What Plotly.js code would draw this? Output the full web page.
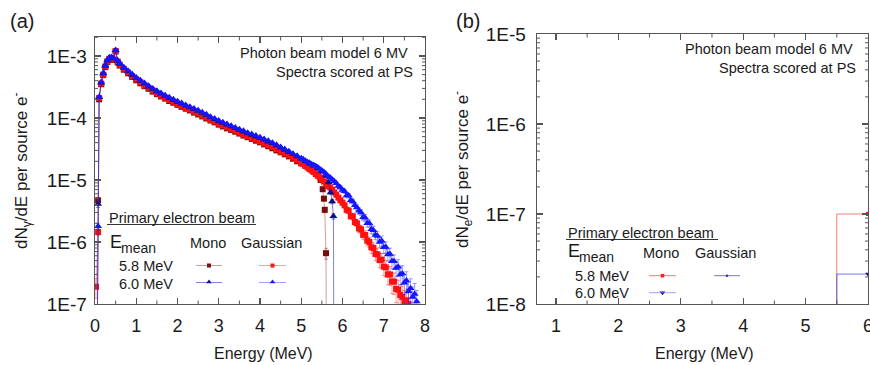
<!DOCTYPE html>
<html><head><meta charset="utf-8">
<script src="https://cdn.plot.ly/plotly-3.0.1.min.js"></script>
<style>html,body{margin:0;padding:0;background:#fff}#chart{width:870px;height:365px}</style>
</head><body><div id="chart"></div>
<script>
// ---------------- DATA ----------------
// Panel (a): photon spectra dN/dE per source electron
const energyLow = [0.025, 0.075];
const mono58Low  = [1e-10, 4.7e-6];
const mono60Low  = [1e-10, 4.1e-6];
const gauss58Low = [1.9e-7, 1.45e-6];
const gauss60Low = [1e-10, 1.8e-6];
const lowRelErr  = [0.35, 0.12];

const energyBody = [0.1,0.15,0.2,0.25,0.3,0.35,0.4,0.45,0.5,0.55,0.6,
  0.7,0.8,0.9,1.0,1.1,1.2,1.3,1.4,1.5,1.6,
  1.7,1.8,1.9,2.0,2.1,2.2,2.3,2.4,2.5,2.6,
  2.7,2.8,2.9,3.0,3.1,3.2,3.3,3.4,3.5,3.6,
  3.7,3.8,3.9,4.0,4.1,4.2,4.3,4.4,4.5,4.6,
  4.7,4.8,4.9,5.0];
const gauss60Body = [2.2e-4,3.8e-4,5.3e-4,7.1e-4,8.6e-4,9.5e-4,9.6e-4,9.2e-4,1.25e-3,8.5e-4,7.6e-4,
  6.6e-4,5.8e-4,5.1e-4,4.5e-4,4.05e-4,3.65e-4,3.3e-4,3.0e-4,2.75e-4,2.52e-4,
  2.33e-4,2.15e-4,2.0e-4,1.86e-4,1.74e-4,1.62e-4,1.52e-4,1.42e-4,1.33e-4,1.24e-4,
  1.15e-4,1.05e-4,9.8e-5,9.1e-5,8.5e-5,8.0e-5,7.5e-5,7.0e-5,6.6e-5,6.2e-5,
  5.8e-5,5.5e-5,5.2e-5,4.9e-5,4.6e-5,4.3e-5,4.0e-5,3.7e-5,3.4e-5,3.15e-5,
  2.9e-5,2.65e-5,2.45e-5,2.25e-5];
const gauss58Body = [2.1e-4,3.6e-4,5.0e-4,6.8e-4,8.2e-4,9.0e-4,9.2e-4,8.8e-4,1.2e-3,8.1e-4,7.2e-4,
  6.2e-4,5.4e-4,4.75e-4,4.2e-4,3.75e-4,3.35e-4,3.05e-4,2.75e-4,2.5e-4,2.3e-4,
  2.12e-4,1.95e-4,1.82e-4,1.69e-4,1.57e-4,1.46e-4,1.37e-4,1.27e-4,1.19e-4,1.1e-4,
  1.02e-4,9.4e-5,8.8e-5,8.1e-5,7.6e-5,7.1e-5,6.6e-5,6.2e-5,5.8e-5,5.4e-5,
  5.1e-5,4.8e-5,4.5e-5,4.2e-5,3.9e-5,3.65e-5,3.4e-5,3.15e-5,2.9e-5,2.7e-5,
  2.5e-5,2.3e-5,2.1e-5,1.9e-5];
const mono58Body = [2.0e-4,3.5e-4,4.9e-4,6.6e-4,8.0e-4,8.8e-4,9.0e-4,8.6e-4,1.18e-3,7.9e-4,7.0e-4,
  6.0e-4,5.25e-4,4.6e-4,4.05e-4,3.62e-4,3.25e-4,2.95e-4,2.66e-4,2.42e-4,2.22e-4,
  2.05e-4,1.88e-4,1.76e-4,1.63e-4,1.51e-4,1.41e-4,1.32e-4,1.22e-4,1.14e-4,1.06e-4,
  9.8e-5,9.1e-5,8.5e-5,7.8e-5,7.3e-5,6.8e-5,6.4e-5,6.0e-5,5.6e-5,5.2e-5,
  4.9e-5,4.6e-5,4.3e-5,4.05e-5,3.75e-5,3.5e-5,3.25e-5,3.0e-5,2.8e-5,2.6e-5,
  2.4e-5,2.2e-5,2.0e-5,1.85e-5];
const mono60Body = [2.15e-4,3.7e-4,5.2e-4,6.9e-4,8.4e-4,9.3e-4,9.4e-4,9.0e-4,1.22e-3,8.3e-4,7.4e-4,
  6.4e-4,5.6e-4,4.95e-4,4.4e-4,3.95e-4,3.55e-4,3.2e-4,2.92e-4,2.67e-4,2.45e-4,
  2.26e-4,2.09e-4,1.94e-4,1.8e-4,1.69e-4,1.57e-4,1.47e-4,1.38e-4,1.29e-4,1.2e-4,
  1.12e-4,1.02e-4,9.5e-5,8.8e-5,8.3e-5,7.8e-5,7.3e-5,6.8e-5,6.4e-5,6.0e-5,
  5.6e-5,5.3e-5,5.0e-5,4.75e-5,4.45e-5,4.15e-5,3.9e-5,3.6e-5,3.3e-5,3.05e-5,
  2.8e-5,2.6e-5,2.4e-5,2.2e-5];

const energyTailG = [5.05,5.1,5.15,5.2,5.25,5.3,5.35,5.4,5.45,5.5,
  5.55,5.6,5.65,5.7,5.75,5.8,5.85,5.9,5.95,6.0,
  6.05,6.1,6.15,6.2,6.25,6.3,6.35,6.4,6.45,6.5,
  6.55,6.6,6.65,6.7,6.75,6.8,6.85,6.9,6.95,7.0,
  7.05,7.1,7.15,7.2,7.25,7.3,7.35,7.4,7.45,7.5,
  7.55,7.6,7.65,7.7,7.75,7.8];
const gauss60Tail = [2.15e-5,2.05e-5,1.95e-5,1.9e-5,1.8e-5,1.75e-5,1.68e-5,1.6e-5,1.5e-5,1.42e-5,
  1.35e-5,1.25e-5,1.15e-5,1.1e-5,1.02e-5,9.5e-6,8.9e-6,8.0e-6,7.6e-6,6.9e-6,
  6.6e-6,5.6e-6,5.6e-6,4.7e-6,4.5e-6,3.9e-6,3.6e-6,3.2e-6,3.0e-6,2.5e-6,
  2.45e-6,2.0e-6,2.0e-6,1.6e-6,1.55e-6,1.3e-6,1.25e-6,1.0e-6,1.05e-6,8.2e-7,
  8.3e-7,6.3e-7,6.4e-7,4.9e-7,4.9e-7,3.8e-7,4.0e-7,3.0e-7,3.1e-7,2.2e-7,
  2.4e-7,1.6e-7,1.8e-7,1.3e-7,1.45e-7,1.1e-7];
const gauss60TailRelErr = [0.03,0.03,0.03,0.03,0.03,0.03,0.03,0.04,0.04,0.04,
  0.05,0.05,0.05,0.05,0.06,0.06,0.06,0.06,0.07,0.07,
  0.08,0.08,0.08,0.09,0.09,0.1,0.1,0.11,0.11,0.12,
  0.13,0.13,0.14,0.15,0.15,0.16,0.17,0.18,0.19,0.2,
  0.21,0.22,0.24,0.25,0.26,0.28,0.3,0.32,0.34,0.36,
  0.38,0.4,0.42,0.45,0.48,0.5];
const gauss58Tail = [1.8e-5,1.7e-5,1.6e-5,1.5e-5,1.42e-5,1.35e-5,1.25e-5,1.17e-5,1.1e-5,1.02e-5,
  9.5e-6,8.8e-6,8.0e-6,7.6e-6,7.0e-6,6.3e-6,5.8e-6,5.2e-6,4.7e-6,4.3e-6,
  3.9e-6,3.3e-6,3.2e-6,2.6e-6,2.6e-6,2.1e-6,2.0e-6,1.65e-6,1.6e-6,1.3e-6,
  1.3e-6,1.05e-6,1.0e-6,8.2e-7,8.0e-7,6.4e-7,6.3e-7,5.1e-7,5.2e-7,4.0e-7,
  3.9e-7,3.0e-7,3.0e-7,2.3e-7,2.3e-7,1.75e-7,1.7e-7,1.4e-7,1.3e-7,1.1e-7,
  1.15e-7,1.0e-7,null,null,null,null];
const gauss58TailRelErr = [0.03,0.03,0.03,0.03,0.04,0.04,0.04,0.04,0.05,0.05,
  0.05,0.06,0.06,0.06,0.07,0.07,0.08,0.08,0.08,0.09,
  0.09,0.1,0.1,0.11,0.12,0.12,0.13,0.14,0.15,0.16,
  0.17,0.18,0.19,0.2,0.21,0.22,0.24,0.25,0.26,0.28,
  0.3,0.32,0.34,0.36,0.38,0.4,0.42,0.45,0.48,0.5,
  0.52,0.55,null,null,null,null];

const energyTailM58 = [5.1,5.2,5.3,5.4,5.47,5.52,5.55,5.57,5.6,5.62];
const mono58Tail    = [1.7e-5,1.55e-5,1.38e-5,1.22e-5,1.0e-5,7.1e-6,5.0e-6,3.3e-6,6.6e-7,1e-10];
const mono58TailRelErr = [0.03,0.03,0.04,0.04,0.05,0.06,0.08,0.1,0.2,0];
const energyTailM60 = [5.1,5.2,5.3,5.4,5.5,5.6,5.66,5.71,5.75,5.78,5.8];
const mono60Tail    = [2.0e-5,1.85e-5,1.7e-5,1.55e-5,1.38e-5,1.18e-5,9.2e-6,6.3e-6,4.5e-6,2.6e-6,1e-10];
const mono60TailRelErr = [0.03,0.03,0.03,0.04,0.04,0.05,0.06,0.07,0.08,0.1,0];

// Panel (b): electron spectra dN/dE per source electron
const eEnergy  = [5.5, 6.0];
const eMono58  = [1e-10, 1.0e-7];
const eMono60  = [1e-10, 2.15e-8];

// Tick labels
const xTicksA = [0,1,2,3,4,5,6,7,8];
const yTicksA = [1e-7,1e-6,1e-5,1e-4,1e-3];
const yTickTextA = ["1E-7","1E-6","1E-5","1E-4","1E-3"];
const xTicksB = [1,2,3,4,5,6];
const yTicksB = [1e-8,1e-7,1e-6,1e-5];
const yTickTextB = ["1E-8","1E-7","1E-6","1E-5"];

// ---------------- BUILD ----------------
const W = 870, H = 365;
const PX = x => x / W, PY = y => 1 - y / H;
const FONT = "Liberation Sans, Arial, sans-serif";
const TXT = "#1a1a1a";
const AX = '#555';

// plot-area geometry (pixels) and axis ranges
const A = {l:95, r:425, t:37, b:304, x0:0, x1:8, y0:-7, y1:-2.694};
const B = {l:537, r:868, t:34, b:304, x0:0.697, x1:6.0, y0:-8, y1:-5};

function absErr(vals, rel){ return vals.map((v,i)=> (v==null||rel[i]==null) ? 0 : v*rel[i]); }
const zerosBody = energyBody.map(()=>0);

function series(xs, ys, errs, mColor, lColor, symbol, size, xa, ya, shape){
  return {type:'scatter', mode:'lines+markers', x:xs, y:ys, xaxis:xa, yaxis:ya,
    line:{color:lColor, width:1, shape: shape || 'linear'},
    marker:{symbol:symbol, size:size, color:mColor, line:{width:0}},
    error_y: errs ? {type:'data', array:errs, visible:true, color:lColor, thickness:1, width:2} : {visible:false},
    showlegend:false, hoverinfo:'skip', connectgaps:false};
}

const C = {
  m58:'#7a0c0c', m58l:'rgba(150,40,40,0.45)',
  g58:'#ff1010', g58l:'rgba(255,40,40,0.45)',
  m60:'#10107a', m60l:'rgba(30,30,160,0.55)',
  g60:'#1515ff', g60l:'rgba(40,40,255,0.45)'
};

const traces = [
  series([].concat(energyLow, energyBody, energyTailM58), [].concat(mono58Low, mono58Body, mono58Tail),
         [].concat(absErr(mono58Low, lowRelErr), zerosBody, absErr(mono58Tail, mono58TailRelErr)),
         C.m58, C.m58l, 'square', 6, 'x', 'y'),
  series([].concat(energyLow, energyBody, energyTailG), [].concat(gauss58Low, gauss58Body, gauss58Tail),
         [].concat(absErr(gauss58Low, lowRelErr), zerosBody, absErr(gauss58Tail, gauss58TailRelErr)),
         C.g58, C.g58l, 'square', 6, 'x', 'y'),
  series([].concat(energyLow, energyBody, energyTailM60), [].concat(mono60Low, mono60Body, mono60Tail),
         [].concat(absErr(mono60Low, lowRelErr), zerosBody, absErr(mono60Tail, mono60TailRelErr)),
         C.m60, C.m60l, 'triangle-up', 7, 'x', 'y'),
  series([].concat(energyLow, energyBody, energyTailG), [].concat(gauss60Low, gauss60Body, gauss60Tail),
         [].concat(absErr(gauss60Low, lowRelErr), zerosBody, absErr(gauss60Tail, gauss60TailRelErr)),
         C.g60, C.g60l, 'triangle-up', 7, 'x', 'y'),
  series(eEnergy, eMono58, null, '#ff1010', 'rgba(240,80,80,0.75)', 'square', 4, 'x2', 'y2', 'vh'),
  series(eEnergy, eMono60, null, '#10107a', 'rgba(70,70,240,0.75)', 'triangle-down', 5, 'x2', 'y2', 'vh')
];

function axisBase(isX){
  return {showline:true, linecolor:AX, linewidth:1.3, mirror:'allticks',
    ticks:'inside', ticklen:6, tickwidth:1.2, tickcolor:AX,
    showgrid:false, zeroline:false, ticklabeloverflow:'allow',
    tickfont:{family:FONT, size: isX ? 18 : 19, color:TXT}};
}

const layout = {
  width:W, height:H, margin:{l:0,r:0,t:0,b:0},
  paper_bgcolor:'#fff', plot_bgcolor:'rgba(0,0,0,0)', showlegend:false,
  xaxis: Object.assign(axisBase(true), {domain:[PX(A.l), PX(A.r)], range:[A.x0,A.x1], anchor:'y',
    tickmode:'array', tickvals:xTicksA, ticktext:xTicksA.map(String), ticklabelstandoff:5}),
  yaxis: Object.assign(axisBase(false), {domain:[PY(A.b), PY(A.t)], type:'log', range:[A.y0, A.y1], anchor:'x',
    tickmode:'array', tickvals:yTicksA, ticktext:yTickTextA, ticklabelstandoff:3}),
  xaxis2: Object.assign(axisBase(true), {domain:[PX(B.l), PX(B.r)], range:[B.x0,B.x1], anchor:'y2',
    tickmode:'array', tickvals:xTicksB, ticktext:xTicksB.map(String), ticklabelstandoff:5}),
  yaxis2: Object.assign(axisBase(false), {domain:[PY(B.b), PY(B.t)], type:'log', range:[B.y0, B.y1], anchor:'x2',
    tickmode:'array', tickvals:yTicksB, ticktext:yTickTextB, ticklabelstandoff:6}),
  xaxis3: {domain:[0,1], range:[0,W], visible:false, fixedrange:true, anchor:'y3'},
  yaxis3: {domain:[0,1], range:[H,0], visible:false, fixedrange:true, anchor:'x3'},
  annotations:[], shapes:[]
};

// minor ticks (axis decoration) drawn as short lines at positions derived from axis geometry
function minorTicks(P){
  const seg = (x0,y0,x1,y1)=>layout.shapes.push({type:'line', xref:'paper', yref:'paper',
    x0:PX(x0), y0:PY(y0), x1:PX(x1), y1:PY(y1), line:{color:AX, width:1}});
  const dec = (P.b - P.t)/(P.y1 - P.y0);
  for(let d=Math.floor(P.y0); d<=Math.ceil(P.y1); d++){
    for(let k=2;k<=9;k++){
      const lv = d + Math.log10(k);
      if(lv<=P.y0 || lv>=P.y1) continue;
      const y = P.b - (lv - P.y0)*dec;
      seg(P.l, y, P.l+3, y); seg(P.r, y, P.r-3, y);
    }
  }
  const ux = (P.r - P.l)/(P.x1 - P.x0);
  for(let v=Math.ceil(P.x0*2)/2; v<P.x1; v+=0.5){
    if(Math.abs(v-Math.round(v))<1e-9) continue;
    const x = P.l + (v - P.x0)*ux;
    seg(x, P.b, x, P.b-3.5); seg(x, P.t, x, P.t+3.5);
  }
}
minorTicks(A); minorTicks(B);

function txt(t, x, y, size, opts){
  layout.annotations.push(Object.assign({text:t, x:PX(x), y:PY(y), xref:'paper', yref:'paper',
    showarrow:false, xanchor:'center', yanchor:'middle',
    font:{family:FONT, size:size, color:TXT}}, opts||{}));
}
function hline(x0, x1, y, color, w){
  layout.shapes.push({type:'line', xref:'paper', yref:'paper', x0:PX(x0), x1:PX(x1), y0:PY(y), y1:PY(y),
    line:{color:color, width:w||1}});
}
// legend sample markers (pixel-space overlay, decoration only)
function legendMarker(x, y, symbol, size, color){
  traces.push({type:'scatter', mode:'markers', x:[x], y:[y], xaxis:'x3', yaxis:'y3',
    marker:{symbol:symbol, size:size, color:color, line:{width:0}}, showlegend:false, hoverinfo:'skip', cliponaxis:false});
}

// Panel labels
txt('(a)', 22, 21, 20);
txt('(b)', 468, 21, 20);
// Axis titles
txt('dN<sub>γ</sub>/dE per source e<sup>-</sup>', 21, 171, 17, {textangle:-90});
txt('dN<sub>e</sub>/dE per source e<sup>-</sup>', 462, 169, 17, {textangle:-90});
txt('Energy (MeV)', 263, 353, 16);
txt('Energy (MeV)', 704, 353, 16);
// In-plot notes
txt('Photon beam model 6 MV', 410, 53, 14.5, {xanchor:'right'});
txt('Spectra scored at PS', 415, 72, 14.5, {xanchor:'right'});
txt('Photon beam model 6 MV', 855, 49, 14.5, {xanchor:'right'});
txt('Spectra scored at PS', 858, 68, 14.5, {xanchor:'right'});

// Legend (a)
txt('Primary electron beam', 107, 218, 14.5, {xanchor:'left'});
hline(107, 256, 224.5, '#333', 1.2);
txt('E', 108, 242, 18, {xanchor:'left'});
txt('mean', 119, 248, 14, {xanchor:'left'});
txt('Mono', 208, 243, 14.5);
txt('Gaussian', 271, 243, 14.5);
txt('5.8 MeV', 117, 266, 14.5, {xanchor:'left'});
txt('6.0 MeV', 117, 284, 14.5, {xanchor:'left'});
hline(196, 222, 265.5, C.m58l, 1);
hline(196, 222, 282.5, C.m60l, 1);
hline(259, 286, 265.5, C.g58l, 1);
hline(259, 286, 282.5, C.g60l, 1);
legendMarker(209, 265.5, 'square', 4, C.m58);
legendMarker(209, 282, 'triangle-up', 5, C.m60);
legendMarker(272.5, 265.5, 'square', 4, C.g58);
legendMarker(272.5, 282, 'triangle-up', 5, C.g60);

// Legend (b)
txt('Primary electron beam', 566, 233, 14.5, {xanchor:'left'});
hline(566, 718, 239.5, '#333', 1.2);
txt('E', 566, 251, 18, {xanchor:'left'});
txt('mean', 577, 257, 14, {xanchor:'left'});
txt('Mono', 661, 253, 14.5);
txt('Gaussian', 725, 253, 14.5);
txt('5.8 MeV', 573, 276, 14.5, {xanchor:'left'});
txt('6.0 MeV', 573, 293, 14.5, {xanchor:'left'});
hline(649, 676, 275.7, 'rgba(240,80,80,0.75)', 1);
hline(649, 676, 292.7, 'rgba(120,120,245,0.7)', 1);
hline(714, 740, 275.7, 'rgba(60,60,170,0.7)', 1);
legendMarker(662.5, 275.7, 'square', 3.5, '#ff1010');
legendMarker(662.5, 292.7, 'triangle-down', 5, '#10107a');
legendMarker(727, 275.7, 'circle', 2.5, '#30308a');

Plotly.newPlot('chart', traces, layout, {staticPlot:true, displayModeBar:false});
</script></body></html>
